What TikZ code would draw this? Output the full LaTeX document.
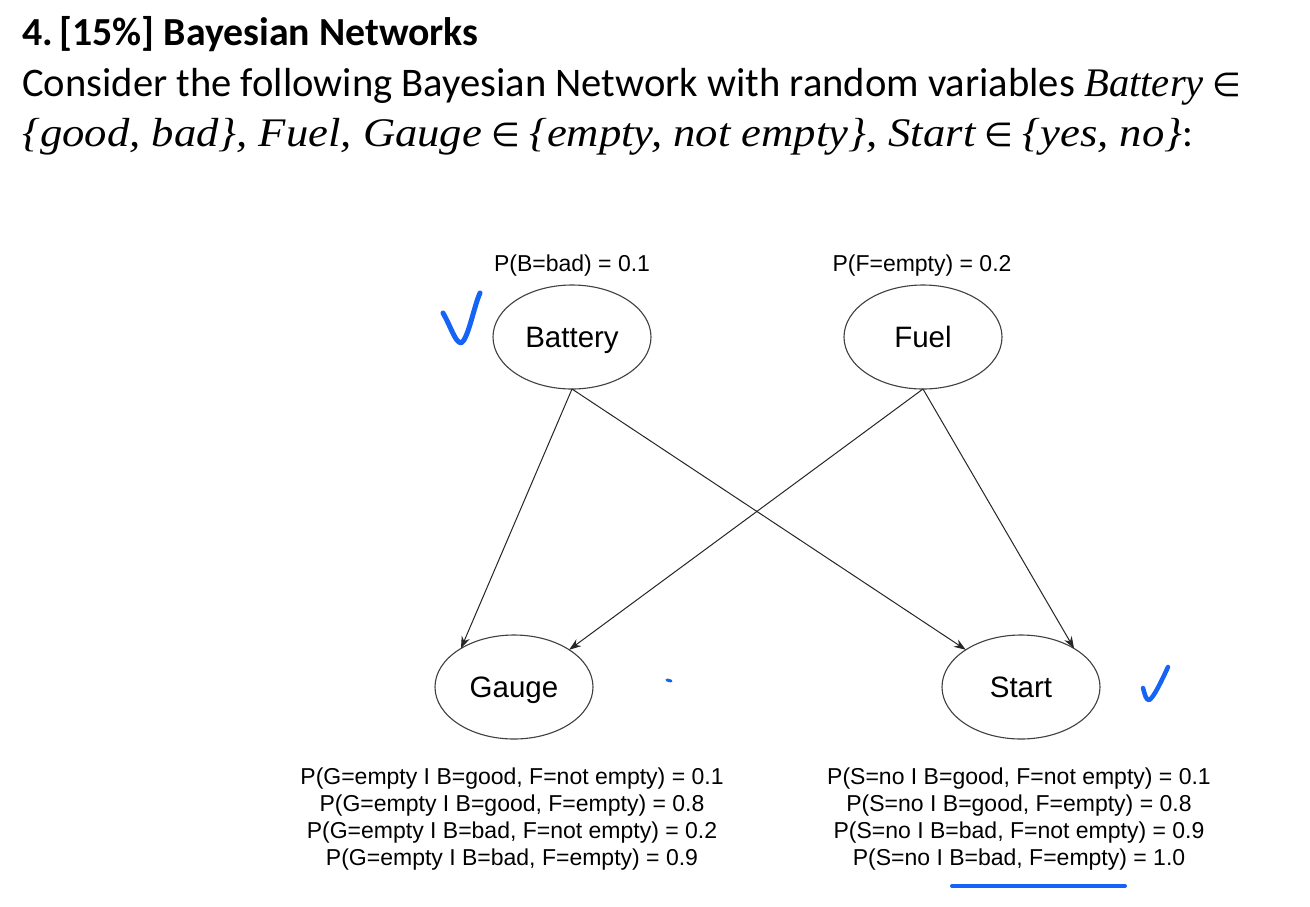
\documentclass[tikz,border=0pt]{standalone}
\usepackage{fontspec}
\setmainfont{Carlito}
\newfontfamily\diag{Liberation Sans}
\newfontfamily\mifont{Liberation Serif}[FakeStretch=1.0]
\newfontfamily\mifontw{Liberation Serif}[FakeStretch=1.1]
\newfontfamily\djv{DejaVu Sans}
\newcommand{\vrb}[1]{{\mifont\itshape #1}}
\newcommand{\vrw}[1]{{\mifontw\itshape #1}}
\newcommand{\elem}{{\djv\fontsize{33}{33}\selectfont ∈}}
\usetikzlibrary{arrows.meta,shapes.geometric}
\definecolor{bluemark}{RGB}{22,100,245}
\begin{document}
\begin{tikzpicture}[x=1pt,y=-1pt,
  bn/.style={ellipse, draw=black!75, line width=1.1pt, minimum width=158pt, minimum height=104pt,
             inner sep=0pt, outer sep=0pt, text height=21pt, text depth=0pt,
             font=\diag\fontsize{29.5}{30}\selectfont},
  lbl/.style={font=\diag\fontsize{23}{27}\selectfont, inner sep=0pt, align=center},
  txt/.style={anchor=base west, inner sep=0pt, font=\fontsize{40.6}{46}\selectfont},
  edge/.style={draw=black!85, line width=1pt, -{Stealth[length=12pt,width=8.5pt]}},
  tick/.style={draw=bluemark, line width=5pt, line cap=round, line join=round}]
\useasboundingbox (0,0) rectangle (1310,906);
\fill[white] (0,0) rectangle (1310,906);

% heading text
\node[txt, font=\fontsize{39.8}{46}\selectfont\bfseries] (title) at (22,45) {4.\,[15\%] Bayesian Networks};
\node[txt] (l2) at (22,96) {Consider the following Bayesian Network with random variables \vrb{Battery} \elem};
\node[txt] (l3) at (22,146) {\vrw{\{good, bad\}, Fuel, Gauge} \elem{} \vrw{\{empty, not empty\}, Start} \elem{} \vrw{\{yes, no\}}:};

% network nodes
\node[bn] (B) at (572,337) {Battery};
\node[bn] (F) at (923,337) {Fuel};
\node[bn] (G) at (514,687) {Gauge};
\node[bn] (S) at (1021,687) {Start};

% priors
\node[lbl, anchor=base] (pb) at (572,271) {P(B=bad) = 0.1};
\node[lbl, anchor=base] (pf) at (922,271) {P(F=empty) = 0.2};

% CPTs
\node[lbl] (cg) at (512,819) {P(G=empty I B=good, F=not empty) = 0.1\\
P(G=empty I B=good, F=empty) = 0.8\\
P(G=empty I B=bad, F=not empty) = 0.2\\
P(G=empty I B=bad, F=empty) = 0.9};
\node[lbl] (cs) at (1019,819) {P(S=no I B=good, F=not empty) = 0.1\\
P(S=no I B=good, F=empty) = 0.8\\
P(S=no I B=bad, F=not empty) = 0.9\\
P(S=no I B=bad, F=empty) = 1.0};

% edges
\draw[edge] (B.south) -- (G.144);
\draw[edge] (B.south) -- (S.146);
\draw[edge] (F.south) -- (G.34);
\draw[edge] (F.south) -- (S.36);

% handwritten blue marks
\draw[tick] (443,313) .. controls (451,327) and (455,342) .. (461,343) .. controls (468,340) and (474,306) .. (480,293);
\draw[tick, line width=4.5pt] (1143,688) .. controls (1145,695) and (1146,700) .. (1149,700) .. controls (1153,699) and (1162,680) .. (1168,667);
\draw[tick, line width=3pt] (667,680) -- (671,681);
\draw[tick, line width=4pt] (952,886) -- (1125,886);
\end{tikzpicture}
\end{document}
